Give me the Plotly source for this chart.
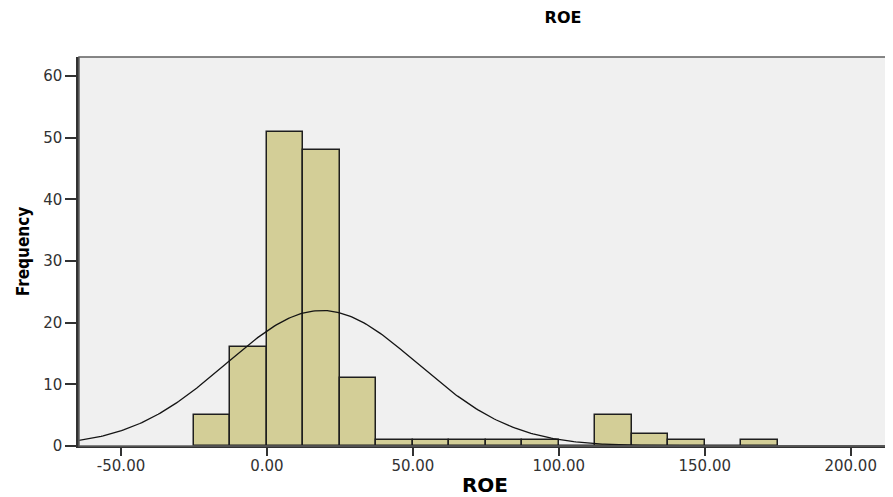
import numpy as np
import plotly.graph_objects as go

# histogram bins (left edges, width 12.5) and frequencies
bin_left = [-25.0, -12.5, 0.0, 12.5, 25.0, 37.5, 50.0, 62.5, 75.0, 87.5,
            100.0, 112.5, 125.0, 137.5, 150.0, 162.5]
counts = [5, 16, 51, 48, 11, 1, 1, 1, 1, 1, 0, 5, 2, 1, 0, 1]
bin_width = 12.5

# fitted normal curve parameters (estimated)
roe_mean = 18.8
roe_std = 32.9
n_obs = sum(counts)

x_ticks = [-50, 0, 50, 100, 150, 200]
y_ticks = [0, 10, 20, 30, 40, 50, 60]

BAR_COLOR = 'rgb(211, 206, 151)'
BG = 'rgb(240, 240, 240)'
FONT = 'DejaVu Sans, Arial, sans-serif'
TICK_COLOR = 'rgb(50, 50, 50)'

centers = [b + bin_width / 2 for b in bin_left]

xs = np.linspace(-64.5, 214, 400)
ys = n_obs * bin_width / (roe_std * np.sqrt(2 * np.pi)) * np.exp(-0.5 * ((xs - roe_mean) / roe_std) ** 2)

fig = go.Figure()
fig.add_trace(go.Bar(
    x=centers,
    y=counts,
    width=bin_width,
    marker=dict(color=BAR_COLOR, line=dict(color='rgb(30, 30, 30)', width=1.5)),
    hoverinfo='x+y',
    name='ROE'
))
fig.add_trace(go.Scatter(
    x=xs, y=ys,
    mode='lines',
    line=dict(color='rgb(20, 20, 20)', width=1.3),
    hoverinfo='skip',
    name='Normal'
))

# border round the plot area
fig.add_shape(type='rect', xref='paper', yref='paper', x0=0, y0=0, x1=1, y1=1,
              line=dict(color='rgb(95, 95, 95)', width=1.5), layer='above')

# the page body adds an 8px offset, so margins are shifted to compensate
fig.update_layout(
    width=893, height=497,
    margin=dict(l=71, r=10, t=49, b=59),
    paper_bgcolor='white',
    plot_bgcolor=BG,
    showlegend=False,
    bargap=0,
    font=dict(family=FONT, color=TICK_COLOR, size=15),
    title=dict(text='<b>ROE</b>', x=555 / 893, xanchor='center', y=1 - 9 / 497, yanchor='middle',
               font=dict(family=FONT, size=16, color='black')),
    xaxis=dict(
        range=[-64.4, 213.8],
        tickvals=x_ticks,
        ticktext=[f'{v:.2f}' for v in x_ticks],
        ticks='outside', ticklen=8, tickwidth=2, tickcolor=TICK_COLOR,
        ticklabelstandoff=-3,
        showgrid=False, zeroline=False,
        showline=True, linecolor=TICK_COLOR, linewidth=2,
        tickfont=dict(family=FONT, size=15, color=TICK_COLOR),
        title=dict(text='<b>ROE</b>', standoff=4,
                   font=dict(family=FONT, size=20, color='black')),
    ),
    yaxis=dict(
        range=[0, 63.1],
        tickvals=y_ticks,
        ticks='outside', ticklen=11, tickwidth=1.5, tickcolor=TICK_COLOR,
        showgrid=False, zeroline=False,
        showline=True, linecolor=TICK_COLOR, linewidth=2.5,
        tickfont=dict(family=FONT, size=15, color=TICK_COLOR),
        title=dict(text='<b>Frequency</b>', standoff=10,
                   font=dict(family='Liberation Sans Narrow, DejaVu Sans Condensed, Arial Narrow, sans-serif',
                             size=17, color='black')),
    ),
)

fig.write_html('out.html')
